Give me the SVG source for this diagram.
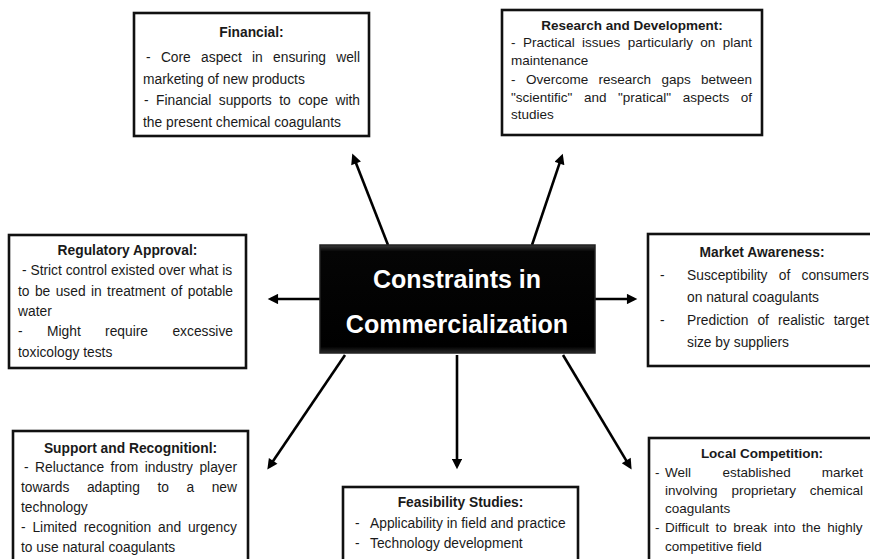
<svg xmlns="http://www.w3.org/2000/svg" width="870" height="559" viewBox="0 0 870 559">
<defs>
<style>
.box{fill:#ffffff;stroke:#111;stroke-width:2.6}
.t{font-family:"Liberation Sans",Arial,sans-serif;font-size:13.8px;fill:#1a1a1a}
.s{font-size:13.5px}
.h{font-weight:bold;text-anchor:middle}
.e{text-anchor:end}
.c{font-family:"Liberation Sans",Arial,sans-serif;font-size:25px;font-weight:bold;fill:#ffffff;text-anchor:middle}
.a{stroke:#000;stroke-width:2.6;fill:none;marker-end:url(#ah)}
</style>
<marker id="ah" viewBox="0 0 10 10" refX="6.8" refY="5" markerWidth="5" markerHeight="4" orient="auto" markerUnits="strokeWidth">
<path d="M0,0 L10,5 L0,10 z" fill="#000"/>
</marker>
<linearGradient id="cg" x1="0" y1="0" x2="0" y2="1">
<stop offset="0" stop-color="#3a3a3a"/>
<stop offset="0.06" stop-color="#050505"/>
<stop offset="0.94" stop-color="#000"/>
<stop offset="1" stop-color="#2a2a2a"/>
</linearGradient>
</defs>
<rect width="870" height="559" fill="#ffffff"/>

<g id="connectors">
<line class="a" x1="388" y1="245" x2="353.5" y2="156.7"/>
<line class="a" x1="532" y1="245" x2="561.7" y2="156.8"/>
<line class="a" x1="320" y1="299" x2="271" y2="299"/>
<line class="a" x1="595" y1="299" x2="634" y2="299"/>
<line class="a" x1="345" y1="355" x2="269.2" y2="466.7"/>
<line class="a" x1="457" y1="355" x2="457" y2="466"/>
<line class="a" x1="563" y1="355" x2="629.9" y2="466.6"/>
</g>

<g id="center">
<rect x="320" y="245" width="275" height="108" fill="url(#cg)" stroke="#222" stroke-width="1.5"/>
<text class="c" x="457" y="288">Constraints in</text>
<text class="c" x="457" y="333">Commercialization</text>
</g>

<g id="financial">
<rect class="box" x="134" y="13" width="235" height="123"/>
<text class="t h" x="251.5" y="37">Financial:</text>
<text class="t" y="62"><tspan x="146">-</tspan><tspan x="160.9">Core</tspan><tspan x="201.1">aspect</tspan><tspan x="252">in</tspan><tspan x="273.1">ensuring</tspan><tspan class="e" x="360">well</tspan></text>
<text class="t" x="143" y="84">marketing of new products</text>
<text class="t" y="105"><tspan x="144">-</tspan><tspan x="156.1">Financial</tspan><tspan x="218.8">supports</tspan><tspan x="279.2">to</tspan><tspan x="298.2">cope</tspan><tspan class="e" x="360">with</tspan></text>
<text class="t" x="143" y="127">the present chemical coagulants</text>
</g>

<g id="research">
<rect class="box" x="502" y="10" width="260" height="125"/>
<text class="t s h" x="632" y="30">Research and Development:</text>
<text class="t s" y="47"><tspan x="511">-</tspan><tspan x="522.9">Practical</tspan><tspan x="582">issues</tspan><tspan x="627.7">particularly</tspan><tspan x="700.3">on</tspan><tspan class="e" x="752">plant</tspan></text>
<text class="t s" x="511" y="65">maintenance</text>
<text class="t s" y="84"><tspan x="511">-</tspan><tspan x="525.9">Overcome</tspan><tspan x="598.5">research</tspan><tspan x="661.4">gaps</tspan><tspan class="e" x="752">between</tspan></text>
<text class="t s" y="102"><tspan x="511">"scientific"</tspan><tspan x="583.9">and</tspan><tspan x="618">"pratical"</tspan><tspan x="682.7">aspects</tspan><tspan class="e" x="752">of</tspan></text>
<text class="t s" x="511" y="119">studies</text>
</g>

<g id="regulatory">
<rect class="box" x="9" y="235" width="237" height="133"/>
<text class="t h" x="127.5" y="255">Regulatory Approval:</text>
<text class="t" x="22" y="275">- Strict control existed over what is</text>
<text class="t" y="296"><tspan x="18">to</tspan><tspan x="34.9">be</tspan><tspan x="55.7">used</tspan><tspan x="91">in</tspan><tspan x="107.1">treatment</tspan><tspan x="170.8">of</tspan><tspan class="e" x="233">potable</tspan></text>
<text class="t" x="18" y="316">water</text>
<text class="t" y="336"><tspan x="18">-</tspan><tspan x="47">Might</tspan><tspan x="105.1">require</tspan><tspan class="e" x="233">excessive</tspan></text>
<text class="t" x="18" y="357">toxicology tests</text>
</g>

<g id="market">
<rect class="box" x="648" y="234" width="228" height="132"/>
<text class="t h" x="762" y="257">Market Awareness:</text>
<text class="t" y="280"><tspan x="660">-</tspan><tspan x="687">Susceptibility</tspan><tspan x="778.8">of</tspan><tspan class="e" x="869">consumers</tspan></text>
<text class="t" x="687" y="302">on natural coagulants</text>
<text class="t" y="325"><tspan x="660">-</tspan><tspan x="687">Prediction</tspan><tspan x="757.4">of</tspan><tspan x="777.9">realistic</tspan><tspan class="e" x="869">target</tspan></text>
<text class="t" x="687" y="347">size by suppliers</text>
</g>

<g id="support">
<rect class="box" x="13" y="431" width="235" height="140"/>
<text class="t h" x="130.5" y="453">Support and Recognitionl:</text>
<text class="t" y="472"><tspan x="24">-</tspan><tspan x="35.1">Reluctance</tspan><tspan x="110.6">from</tspan><tspan x="144.7">industry</tspan><tspan class="e" x="237">player</tspan></text>
<text class="t" y="492"><tspan x="21">towards</tspan><tspan x="86.9">adapting</tspan><tspan x="157.4">to</tspan><tspan x="186.5">a</tspan><tspan class="e" x="237">new</tspan></text>
<text class="t" x="21" y="512">technology</text>
<text class="t" y="532"><tspan x="21">-</tspan><tspan x="32.4">Limited</tspan><tspan x="83.7">recognition</tspan><tspan x="158.1">and</tspan><tspan class="e" x="237">urgency</tspan></text>
<text class="t" x="21" y="552">to use natural coagulants</text>
</g>

<g id="feasibility">
<rect class="box" x="343" y="487" width="235" height="84"/>
<text class="t h" x="460.5" y="507">Feasibility Studies:</text>
<text class="t" y="528"><tspan x="355">-</tspan><tspan x="370">Applicability in field and practice</tspan></text>
<text class="t" y="548"><tspan x="355">-</tspan><tspan x="370">Technology development</tspan></text>
</g>

<g id="competition">
<rect class="box" x="649" y="438" width="226" height="133"/>
<text class="t s h" x="762" y="458">Local Competition:</text>
<text class="t s" y="477"><tspan x="655">-</tspan><tspan x="665">Well</tspan><tspan x="722.4">established</tspan><tspan class="e" x="863">market</tspan></text>
<text class="t s" y="495"><tspan x="665">involving</tspan><tspan x="731.4">proprietary</tspan><tspan class="e" x="863">chemical</tspan></text>
<text class="t s" x="665" y="513">coagulants</text>
<text class="t s" y="532"><tspan x="655">-</tspan><tspan x="665" word-spacing="2.8">Difficult to break into the highly</tspan></text>
<text class="t s" x="665" y="551">competitive field</text>
</g>
</svg>
